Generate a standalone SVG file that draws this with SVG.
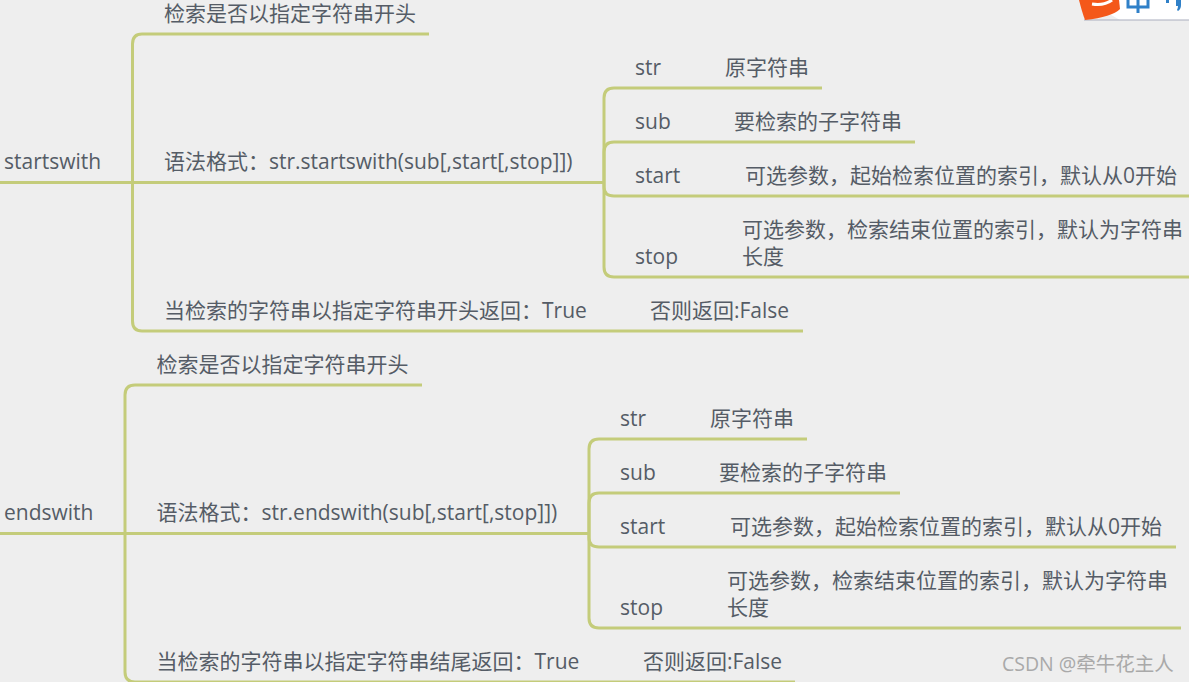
<svg xmlns="http://www.w3.org/2000/svg" width="1189" height="682" viewBox="0 0 1189 682">
<style>
text{font-family:"Open Sans","Noto Sans CJK SC",sans-serif;font-size:21px;fill:#555c66}
.c{fill:none;stroke:#c4cc7a;stroke-width:3}
.w{font-size:19.500px;fill:#a9a9a9}
</style>
<rect width="1189" height="682" fill="#eeeeee"/>
<g id="corner-badge">
<path d="M1085 0H1189V20H1120Z" fill="#ffffff"/>
<path d="M1084 20H1189" fill="none" stroke="#a9adbd" stroke-width="1"/>
<path d="M1079 0H1119L1120 9Q1112 17 1085 20Q1082 12 1079 0Z" fill="#f4581a"/>
<path d="M1092 4Q1104 6 1112 0" fill="none" stroke="#fff" stroke-width="3"/>
<path d="M1128 0V7H1148V0M1138 0V13" fill="none" stroke="#2f80c8" stroke-width="3"/>
<path d="M1166 0h3v3h-3z M1176 0h5v5q0 4-3 6l-1-1q1-2 1-4h-2z" fill="#2f80c8"/>
</g>
<g id="connectors">
<path class="c" d="M0 182.500H604"/>
<path class="c" d="M429 34H142Q132.500 34 132.500 44V321Q132.500 331 142 331H803"/>
<path class="c" d="M822 88H614Q604 88 604 98V267Q604 277 614 277H1189"/>
<path class="c" d="M915 142H614Q604 142 604 152V187Q604 196 614 196H1189"/>
<path class="c" d="M0 533.500H589"/>
<path class="c" d="M422 385H135Q125 385 125 395V672Q125 682 135 682H795"/>
<path class="c" d="M807 439H599Q589 439 589 449V618Q589 628 599 628H1181"/>
<path class="c" d="M900 493H599Q589 493 589 503V538Q589 547 599 547H1176"/>
</g>
<g id="startswith">
<text x="4" y="169">startswith</text>
<text x="164" y="21">检索是否以指定字符串开头</text>
<text x="164" y="169">语法格式：str.startswith(sub[,start[,stop]])</text>
<text x="164" y="318">当检索的字符串以指定字符串开头返回：True</text>
<text x="650" y="318">否则返回:False</text>
<text x="635" y="75">str</text><text x="725" y="75">原字符串</text>
<text x="635" y="129">sub</text><text x="734" y="129">要检索的子字符串</text>
<text x="635" y="183">start</text><text x="745" y="183">可选参数，起始检索位置的索引，默认从0开始</text>
<text x="635" y="264">stop</text><text x="742" y="237">可选参数，检索结束位置的索引，默认为字符串</text><text x="742" y="264">长度</text>
</g>
<g id="endswith">
<text x="4" y="520">endswith</text>
<text x="156.500" y="372">检索是否以指定字符串开头</text>
<text x="156.500" y="520">语法格式：str.endswith(sub[,start[,stop]])</text>
<text x="156.500" y="669">当检索的字符串以指定字符串结尾返回：True</text>
<text x="643" y="669">否则返回:False</text>
<text x="620" y="426">str</text><text x="710" y="426">原字符串</text>
<text x="620" y="480">sub</text><text x="719" y="480">要检索的子字符串</text>
<text x="620" y="534">start</text><text x="730" y="534">可选参数，起始检索位置的索引，默认从0开始</text>
<text x="620" y="615">stop</text><text x="727" y="588">可选参数，检索结束位置的索引，默认为字符串</text><text x="727" y="615">长度</text>
</g>
<g id="watermark"><text class="w" x="1002" y="671">CSDN @牵牛花主人</text></g>
</svg>
